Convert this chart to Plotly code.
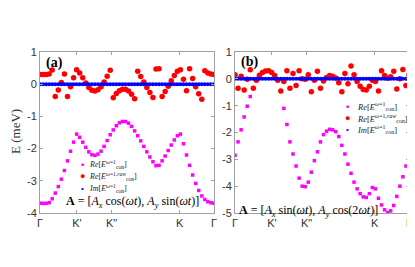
import numpy as np
import plotly.graph_objects as go

# ---------------- data ----------------
k_ticks = [0.0, 0.2126, 0.411, 0.802, 1.0]
k_labels = ["Γ", "K'", "K\"", "K", "Γ"]

yticks_a = [1, 0, -1, -2, -3, -4]
ytext_a = ["1", "0", "-1", "-2", "-3", "-4"]
yticks_b = [1, 0, -1, -2, -3, -4, -5]
ytext_b = ["1", "0", "-1", "-2", "-3", "-4", "-5"]

# panel (a): Re[E_con^{w=1}]
re_a = [-3.70, -3.70, -3.70, -3.68, -3.56, -3.38, -3.18, -2.95, -2.68, -2.38,
        -2.08, -1.80, -1.55, -1.65, -1.80, -1.96, -2.10, -2.19, -2.21, -2.17,
        -2.08, -1.93, -1.75, -1.57, -1.42, -1.29, -1.20, -1.16, -1.16, -1.21,
        -1.31, -1.45, -1.60, -1.76, -1.93, -2.10, -2.26, -2.41, -2.53, -2.52,
        -2.38, -2.23, -2.06, -1.89, -1.73, -1.60, -1.55, -1.85, -2.20, -2.52,
        -2.82, -3.08, -3.30, -3.47, -3.58, -3.65, -3.68, -3.70]
# panel (a): Re[E_con^{w=1,raw}]
raw_a = [0.30, 0.30, 0.30, 0.32, 0.44, -0.38, -0.18, 0.05, 0.32, -0.38,
         -0.08, 0.20, 0.45, 0.35, 0.20, 0.04, -0.10, -0.19, -0.21, -0.17,
         -0.08, 0.07, 0.25, 0.43, -0.42, -0.29, -0.20, -0.16, -0.16, -0.21,
         -0.31, -0.45, 0.40, 0.24, 0.07, -0.10, -0.26, -0.41, 0.47, 0.48,
         -0.38, -0.23, -0.06, 0.11, 0.27, 0.40, 0.45, 0.15, -0.20, 0.48,
         0.18, -0.08, -0.30, -0.47, 0.42, 0.35, 0.32, 0.30]
# panel (a): Im[E_con^{w=1}]
im_a = [0.0] * 58

# panel (b): Re[E_con^{w=1}]
re_b = [-2.85, -2.35, -1.90, -1.42, -1.02, -0.66, -0.35, -0.05, 0.13, 0.24,
        0.29, 0.30, 0.24, 0.12, -0.05, -0.45, -1.10, -1.70, -2.35, -2.80,
        -3.25, -3.70, -4.00, -4.02, -3.85, -3.48, -3.05, -2.72, -2.35, -2.08,
        -1.95, -1.88, -1.90, -1.97, -2.15, -2.48, -2.80, -3.18, -3.52, -3.85,
        -4.10, -4.28, -4.40, -4.42, -4.28, -4.05, -4.10, -4.45, -4.70, -4.88,
        -4.98, -4.92, -4.72, -4.38, -4.00, -3.65, -3.25, -2.85]
# panel (b): Re[E_con^{w=1,raw}]
raw_b = [0.15, -0.35, 0.10, -0.42, -0.02, 0.34, -0.35, -0.05, 0.13, 0.24,
         0.29, 0.30, 0.24, 0.12, -0.05, -0.45, -0.10, 0.30, -0.35, 0.20,
         -0.25, 0.30, 0.00, -0.02, 0.15, -0.48, -0.05, 0.28, -0.35, -0.08,
         0.05, 0.12, 0.10, 0.03, -0.15, -0.48, 0.20, -0.18, 0.48, 0.15,
         -0.10, -0.28, -0.40, -0.42, -0.28, -0.05, -0.10, -0.45, 0.30, 0.12,
         0.02, 0.08, 0.28, -0.38, 0.00, 0.35, -0.25, 0.15]
# panel (b): Im[E_con^{w=1}]
im_b = [0.0] * 58

k_a = np.linspace(0, 1, len(re_a))
k_b = np.linspace(0, 1, len(re_b))

MAG, RED, BLUE = "#ff00ff", "#ff0000", "#0000ff"
SERIF = "Liberation Serif"
SANS = "Liberation Sans"
OFF = 8                      # default page margin of the html body
W, H = 415 - OFF, 267 - OFF


def px(x):
    return (x - OFF) / W


def py(y):
    return 1 - (y - OFF) / H


fig = go.Figure()
for (k, re, raw, im, xa, ya) in [(k_a, re_a, raw_a, im_a, "x", "y"),
                                  (k_b, re_b, raw_b, im_b, "x2", "y2")]:
    fig.add_trace(go.Scatter(x=k, y=re, mode="markers", xaxis=xa, yaxis=ya,
                             marker=dict(symbol="square", size=3.5, color=MAG),
                             showlegend=False))
    fig.add_trace(go.Scatter(x=k, y=raw, mode="markers", xaxis=xa, yaxis=ya,
                             marker=dict(symbol="circle", size=5.5, color=RED),
                             showlegend=False))
    fig.add_trace(go.Scatter(x=k, y=im, mode="markers", xaxis=xa, yaxis=ya,
                             marker=dict(symbol="circle", size=4, color=BLUE),
                             showlegend=False))

axis_common = dict(showline=True, linecolor="#a0a0a0", linewidth=1, mirror="ticks",
                   ticks="inside", ticklen=3, tickcolor="#a0a0a0", showgrid=False,
                   zeroline=False, tickfont=dict(family=SANS, size=11, color="#333333"))

fig.update_layout(
    width=W, height=H, margin=dict(l=0, r=0, t=0, b=0, autoexpand=False),
    plot_bgcolor="white", paper_bgcolor="white",
    xaxis=dict(domain=[px(40), px(214)], range=[0, 1], tickvals=k_ticks,
               ticktext=k_labels, anchor="y", **axis_common),
    yaxis=dict(domain=[py(213), py(52)], range=[-4, 1], tickvals=yticks_a,
               ticktext=ytext_a, anchor="x", **axis_common),
    xaxis2=dict(domain=[px(235), px(409)], range=[0, 1], tickvals=k_ticks,
                ticktext=k_labels, anchor="y2", **axis_common),
    yaxis2=dict(domain=[py(213), py(52)], range=[-5, 1], tickvals=yticks_b,
                ticktext=ytext_b, anchor="x2", **axis_common),
)

ann = []


def add_ann(x, y, text, size, family=SERIF, color="#222222", xanchor="center", **kw):
    ann.append(dict(x=px(x), y=py(y), xref="paper", yref="paper", text=text,
                    xanchor=xanchor, yanchor="middle",
                    showarrow=False, font=dict(family=family, size=size, color=color), **kw))


# y title
add_ann(16, 132, "E (meV)", 13, textangle=-90, color="#333333")
# panel labels
add_ann(44, 63, "<b>(a)</b>", 14, xanchor="left", color="black")
add_ann(239, 62, "<b>(b)</b>", 14, xanchor="left", color="black")

leg_texts = ["<i>Re</i>[<i>E</i><sup><i>ω</i>=1</sup><sub>con</sub>]",
             "<i>Re</i>[<i>E</i><sup><i>ω</i>=1,<i>raw</i></sup><sub>con</sub>]",
             "<i>Im</i>[<i>E</i><sup><i>ω</i>=1</sup><sub>con</sub>]"]
leg_syms = [("■", MAG, 5), ("●", RED, 9), ("•", BLUE, 8)]


def add_legend(xs, xt, rows, fsize):
    for (sym, col, ss), txt, yy in zip(leg_syms, leg_texts, rows):
        add_ann(xs, yy, sym, ss, family=SANS, color=col)
        add_ann(xt, yy, txt, fsize, xanchor="left")


add_legend(82, 87, [164, 176, 188], 8)
add_legend(347, 355, [106, 118, 130], 8.5)

add_ann(132, 202,
        "<b>A</b> = [<i>A<sub>x</sub></i> cos(<i>ωt</i>), <i>A<sub>y</sub></i> sin(<i>ωt</i>)]",
        12, color="black")
add_ann(237, 211,
        "<b>A</b> = [<i>A<sub>x</sub></i> sin(<i>ωt</i>), <i>A<sub>y</sub></i> cos(2<i>ωt</i>)]",
        12, xanchor="left", color="black")

fig.update_layout(annotations=ann)
fig.write_html("out.html")
